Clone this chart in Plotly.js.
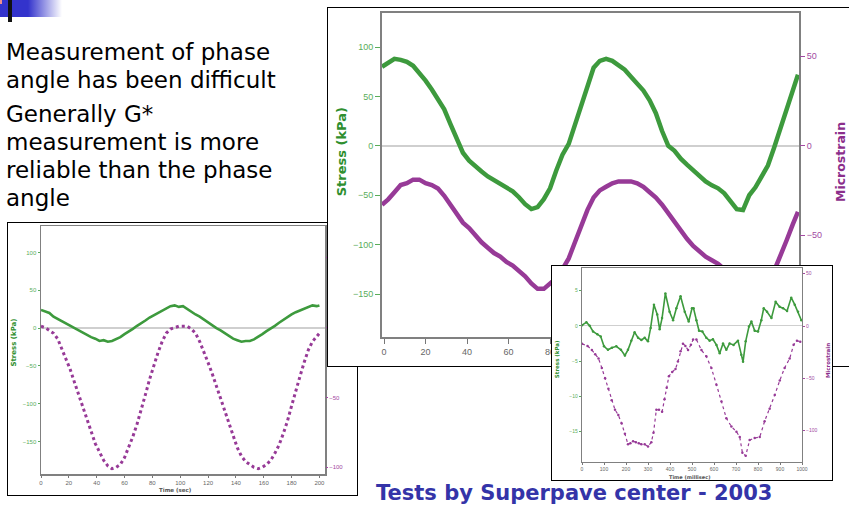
<!DOCTYPE html>
<html><head><meta charset="utf-8">
<script src="https://cdn.plot.ly/plotly-3.0.1.min.js"></script>
<style>
html,body{margin:0;padding:0;}
body{width:849px;height:506px;overflow:hidden;position:relative;background:#fff;font-family:'DejaVu Sans',sans-serif;}
.box{position:absolute;box-sizing:border-box;border:1px solid #000;background:#fff;overflow:hidden;}
.line{position:absolute;left:6px;font-size:23px;line-height:28px;color:#000;white-space:nowrap;}
</style></head><body>
<div style="position:absolute;left:0;top:0;width:62px;height:17px;background:linear-gradient(to right,#3333cc 0px,#3333cc 28px,#ffffff 62px);"></div>
<div style="position:absolute;left:0;top:0;width:2px;height:4px;background:#f09090;"></div>
<div style="position:absolute;left:8px;top:0;width:4px;height:22px;background:#111;"></div>
<div class="line" style="top:38px">Measurement of phase</div>
<div class="line" style="top:66px">angle has been difficult</div>
<div class="line" style="top:100px">Generally G*</div>
<div class="line" style="top:128px">measurement is more</div>
<div class="line" style="top:156px">reliable than the phase</div>
<div class="line" style="top:184px">angle</div>
<div id="A" class="box" style="left:7px;top:222px;width:351px;height:274px;"></div>
<div id="B" class="box" style="left:327px;top:7px;width:560px;height:360px;"></div>
<div id="C" class="box" style="left:551px;top:265px;width:282px;height:216px;"></div>
<div style="position:absolute;left:376px;top:483px;font-family:'DejaVu Sans';font-weight:bold;font-size:21px;line-height:21px;color:#3434a8;white-space:nowrap;">Tests by Superpave center - 2003</div>
<script>
// ---------- Chart A (left, Time in sec) ----------
const A_stress_time = [0,3,6,9,12,15,18,21,24,27,30,33,36,39,42,45,48,51,54,57,60,63,66,69,72,75,78,81,84,87,90,93,96,99,102,105,108,111,114,117,120,123,126,129,132,135,138,141,144,147,150,153,156,159,162,165,168,171,174,177,180,183,186,189,192,195,198,200];
const A_stress = [24,22,20,15,12,9,6,2,0,-3,-6,-9,-12,-14,-17,-16,-18,-17,-15,-12,-8,-5,-1,3,6,10,14,17,21,24,27,29,30,28,29,25,21,18,15,11,7,4,0,-3,-7,-11,-14,-16,-18,-17,-17,-15,-12,-8,-4,-1,3,7,11,14,18,21,23,26,28,30,29,30];
const A_strain_time = [0,3,6,9,12,15,18,21,24,27,30,33,36,39,42,45,48,51,54,57,60,63,66,69,72,75,78,81,84,87,90,93,96,99,102,105,108,111,114,117,120,123,126,129,132,135,138,141,144,147,150,153,156,159,162,165,168,171,174,177,180,183,186,189,192,195,198,200];
const A_strain = [1,0,-2,-4,-8,-15,-22,-30,-39,-48,-57,-66,-75,-83,-89,-95,-99,-101,-100,-98,-93,-86,-78,-69,-59,-48,-37,-27,-18,-10,-4,-1,0,1,1,1,-1,-4,-10,-17,-25,-33,-42,-51,-60,-69,-78,-86,-92,-96,-98,-100,-101,-100,-98,-95,-90,-84,-76,-67,-56,-45,-35,-25,-16,-10,-6,-4];
const A_xticks = [0,20,40,60,80,100,120,140,160,180,200];
const A_yticks = [-150,-100,-50,0,50,100];
const A_y2ticks = [-100,-50,0,50];

// ---------- Chart B (large, Time in sec) ----------
const B_stress_time = [-1,2,5,8,11,14,17,20,23,26,29,32,35,38,41,44,47,50,53,56,59,62,65,68,71,74,77,80,83,86,89,92,95,98,101,104,107,110,113,116,119,122,125,128,131,134,137,140,143,146,149,152,155,158,161,164,167,170,173,176,179,182,185,188,191,194,197,199.5];
const B_stress = [80,84,88,87,85,81,74,66,57,48,37,22,6,-7,-15,-21,-26,-31,-35,-39,-43,-46,-52,-59,-64,-62,-54,-43,-25,-9,2,21,42,61,79,86,88,86,82,77,70,63,56,46,33,15,0,-5,-13,-19,-25,-31,-36,-40,-43,-48,-57,-64,-65,-50,-42,-30,-20,-2,18,38,56,72];
const B_strain_time = [-1,2,5,8,11,14,17,20,23,26,29,32,35,38,41,44,47,50,53,56,59,62,65,68,71,74,77,80,83,86,89,92,95,98,101,104,107,110,113,116,119,122,125,128,131,134,137,140,143,146,149,152,155,158,161,164,167,170,173,176,179,182,185,188,191,194,197,199.5];
const B_strain = [-33,-30,-26,-22,-21,-19,-19,-21,-22,-24,-28,-33,-38,-43,-46,-50,-54,-57,-60,-62,-65,-67,-70,-73,-77,-80,-80,-77,-74,-69,-63,-54,-45,-36,-29,-25,-23,-21,-20,-20,-20,-21,-23,-26,-29,-33,-38,-42,-47,-52,-56,-59,-62,-64,-66,-69,-72,-76,-79,-81,-82,-80,-76,-70,-62,-53,-44,-37];
const B_xticks = [0,20,40,60,80,100,120,140,160,180,200];
const B_yticks = [-150,-100,-50,0,50,100];
const B_y2ticks = [-50,0,50];

// ---------- Chart C (small, Time in millisec) ----------
const C_stress_time = [0,20,35,50,70,85,100,118,136,156,177,195,209,224,239,255,270,285,300,312,327,342,353,364,379,398,414,429,448,467,485,500,507,520,532,547,565,580,595,611,626,641,656,671,689,709,724,732,744,759,770,785,800,815,826,841,861,880,898,914,932,951,967,982,997];
const C_stress = [0.1,0.5,0,-0.8,-1.2,-1.5,-2.9,-3.4,-3.1,-2.9,-3.4,-4.2,-3.4,-2.1,-0.9,-1.7,-2.0,-1.7,-2.2,-0.3,3.0,1.6,-0.5,1.1,4.6,2.0,0.8,2.5,4.2,2.0,0.6,2.5,2.5,0.8,-0.7,-0.8,-1.7,-2.1,-1.9,-2.7,-3.9,-2.5,-3.4,-2.5,-2.7,-2.1,-4.1,-5.1,-2.2,-0.1,0.6,-0.7,-0.8,0.8,2.5,2.0,1.1,3.4,2.7,2.5,2.1,4.0,3.0,2.0,0.8];
const C_strain_time = [0,25,45,60,75,90,105,120,135,150,165,180,195,209,220,232,245,258,270,285,300,315,325,338,350,364,375,385,395,410,425,436,448,459,470,482,495,505,520,543,565,588,611,634,656,679,702,717,729,744,762,785,808,830,853,876,899,921,944,962,977,992];
const C_strain = [-17,-19,-23,-27,-31,-40,-50,-60,-71,-80,-85,-93,-103,-113,-112,-110,-111,-112,-113,-113,-115,-111,-102,-80,-80,-82,-70,-59,-48,-44,-41,-34,-24,-17,-19,-23,-18,-13,-13,-23,-29,-40,-56,-72,-88,-96,-101,-106,-121,-124,-109,-107,-106,-91,-79,-66,-52,-40,-31,-18,-14,-15];
const C_xticks = [0,100,200,300,400,500,600,700,800,900,1000];
const C_yticks = [-15,-10,-5,0,5];
const C_y2ticks = [-100,-50,0,50];

const GREEN = '#3d9a3d', PURPLE = '#973a97';
const GTICK = '#5aad5a', PTICK = '#a24aa2';

function chart(id, o) {
  const el = document.getElementById(id);
  const w = el.clientWidth, h = el.clientHeight;
  const frame = '#808080';
  const layout = {
    width: w, height: h,
    margin: o.margin,
    paper_bgcolor: '#fff', plot_bgcolor: '#fff',
    showlegend: false,
    font: {family: 'Liberation Sans, Arial, sans-serif'},
    xaxis: {range: o.xrange, tickvals: o.xticks, ticks: 'outside', ticklen: o.tl, tickcolor: '#777',
      tickfont: {size: o.fs, color: '#666'}, showline: true, linecolor: frame, linewidth: o.lw, mirror: true,
      showgrid: false, zeroline: false, fixedrange: true},
    yaxis: {range: o.yrange, tickvals: o.yticks, ticks: 'outside', ticklen: o.tl, tickcolor: GTICK,
      tickfont: {size: o.fs, color: GTICK}, showline: true, linecolor: frame, linewidth: o.lw, mirror: true,
      showgrid: false, zeroline: true, zerolinecolor: '#cfcfcf', zerolinewidth: o.zw, fixedrange: true},
    yaxis2: {range: o.y2range, tickvals: o.y2ticks, overlaying: 'y', side: 'right', ticks: 'outside', ticklen: o.tl,
      tickcolor: PTICK, tickfont: {size: o.fs, color: PTICK}, showline: false, showgrid: false, zeroline: false, fixedrange: true},
    annotations: o.ann
  };
  Plotly.newPlot(el, o.traces, layout, {displayModeBar: false, staticPlot: true});
}

function tt(text, x, y, xs, ys, size, color, angle) {
  return {text: text, xref: 'paper', yref: 'paper', x: x, y: y, xshift: xs, yshift: ys, showarrow: false,
    textangle: angle, xanchor: 'center', yanchor: 'middle', borderpad: 0,
    font: {family: 'DejaVu Sans', size: size, color: color, weight: 'bold'}};
}

chart('A', {
  margin: {l: 33, r: 32, t: 3, b: 21},
  xrange: [0, 204], yrange: [-193, 135], y2range: [-104.8, 72.8],
  xticks: A_xticks, yticks: A_yticks, y2ticks: A_y2ticks, fs: 6, tl: 2, lw: 1.5, zw: 1.5,
  traces: [
    {x: A_stress_time, y: A_stress, mode: 'lines', line: {color: GREEN, width: 2.6}, yaxis: 'y'},
    {x: A_strain_time, y: A_strain, mode: 'lines', line: {color: PURPLE, width: 3, dash: 'dot'}, yaxis: 'y2'}
  ],
  ann: [
    tt('Stress (kPa)', 0, 0.53, -27, 0, 7, '#2f8f2f', -90),
    tt('Time (sec)', 0.475, 0, 0, -16, 5.5, '#555', 0)
  ]
});

chart('B', {
  margin: {l: 54, r: 87, t: 5, b: 29},
  xrange: [-1, 200], yrange: [-193.4, 134.4], y2range: [-106.9, 74.1],
  xticks: B_xticks, yticks: B_yticks, y2ticks: B_y2ticks, fs: 9, tl: 5, lw: 2, zw: 2,
  traces: [
    {x: B_stress_time, y: B_stress, mode: 'lines', line: {color: GREEN, width: 4.5}, yaxis: 'y'},
    {x: B_strain_time, y: B_strain, mode: 'lines', line: {color: PURPLE, width: 4.5}, yaxis: 'y2'}
  ],
  ann: [
    tt('Stress (kPa)', 0, 0.57, -41, 0, 13, '#2f8f2f', -90),
    tt('Microstrain', 1, 0.54, 41, 0, 12.5, '#8b2e8b', -90)
  ]
});

chart('C', {
  margin: {l: 30, r: 30, t: 2, b: 18},
  xrange: [0, 1000], yrange: [-19.3, 8.2], y2range: [-129.9, 55.4],
  xticks: C_xticks, yticks: C_yticks, y2ticks: C_y2ticks, fs: 5, tl: 2, lw: 1.2, zw: 1.2,
  traces: [
    {x: C_stress_time, y: C_stress, mode: 'lines+markers', line: {color: GREEN, width: 1.6}, marker: {size: 2.5, color: GREEN}, yaxis: 'y'},
    {x: C_strain_time, y: C_strain, mode: 'lines+markers', line: {color: PURPLE, width: 1.2, dash: 'dot'}, marker: {size: 2.5, color: PURPLE}, yaxis: 'y2'}
  ],
  ann: [
    tt('Stress (kPa)', 0, 0.53, -25, 0, 5.5, '#2f8f2f', -90),
    tt('Microstrain', 1, 0.52, 26, 0, 5.5, '#8b2e8b', -90),
    tt('Time (millisec)', 0.49, 0, 0, -15, 5, '#555', 0)
  ]
});
</script>
</body></html>
